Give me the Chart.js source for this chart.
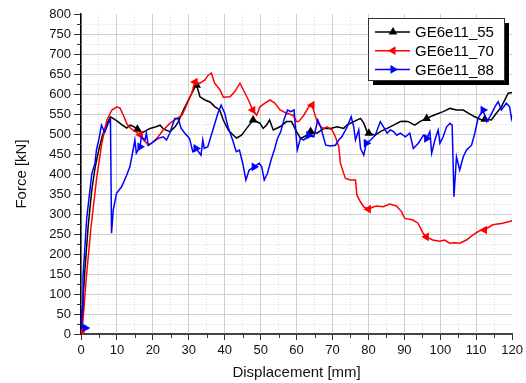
<!DOCTYPE html>
<html>
<head>
<meta charset="utf-8">
<script src="https://cdn.jsdelivr.net/npm/chart.js@4.4.1/dist/chart.umd.min.js"></script>
<style>
  html, body { margin: 0; padding: 0; background: #fff; }
  #wrap { width: 526px; height: 383px; }
</style>
</head>
<body>
<div id="wrap"><canvas id="forceChart" width="526" height="383"></canvas></div>
<script>
var seriesNames = ['GE6e11_55', 'GE6e11_70', 'GE6e11_88'];

var blackDisp = [0, 1, 2, 3, 4, 5, 6, 7, 8.2, 10, 11.5, 12.7, 13.7, 14.8, 15.7, 16.9, 18, 19.2, 20.9, 22, 23, 24.8, 26.2, 27.1, 28.5, 29.9, 31.75, 32.2, 33.1, 34.5, 35.9, 37.3, 38.6, 39.6, 41, 42.4, 43.3, 44.7, 46.1, 47.9, 49.8, 50.7, 51.6, 52.5, 53.5, 55.4, 57.2, 58.6, 60, 61.1, 62.9, 63.9, 65.7, 67.6, 69.4, 71.3, 73.1, 74, 75.9, 77.8, 78.7, 79.6, 80.1, 81.9, 83.3, 85.2, 87, 88.9, 90.3, 91.1, 92.9, 94.3, 96.2, 98.5, 100.8, 102.7, 104.5, 106.4, 107.8, 109.6, 111.5, 112.4, 114.2, 115.6, 117, 118.9, 120];
var blackForce = [0, 150, 270, 360, 420, 462, 497, 522, 543, 533, 522, 515, 522, 518, 512, 503, 508, 514, 518, 522, 512, 506, 518, 531, 560, 585, 618, 622, 593, 585, 580, 568, 560, 535, 510, 497, 490, 497, 514, 535, 527, 514, 522, 535, 510, 518, 531, 531, 506, 489, 497, 506, 502, 514, 514, 518, 514, 522, 531, 539, 527, 506, 502, 497, 506, 514, 522, 531, 532, 531, 522, 531, 539, 548, 556, 564, 560, 560, 552, 543, 535, 537, 535, 552, 568, 602, 604];

var redDisp = [0.3, 1.5, 2.8, 4.4, 5.8, 7.2, 8.6, 10, 10.9, 11.8, 12.8, 13.7, 15.1, 16.5, 17.4, 18.8, 19.7, 21.1, 22.9, 24.8, 26.7, 28.1, 29.4, 30.8, 31.75, 33.1, 34.5, 35.4, 36.3, 37.2, 38.7, 39.6, 41.5, 42.8, 44.25, 45.2, 46.6, 47.8, 48.9, 49.8, 51.2, 52.6, 54, 55.4, 57.2, 59, 60, 60.6, 62, 63.4, 64.3, 65, 65.7, 66.7, 67.6, 68.5, 69.9, 70.8, 71.75, 72.2, 73.1, 73.6, 75, 76.4, 76.8, 77.8, 78.7, 80, 81.5, 82.2, 84.1, 85.9, 87.8, 89.2, 90.1, 92.4, 93.8, 95.2, 96.1, 97.9, 99.8, 101.2, 102.6, 104, 105.4, 107.3, 109.1, 110.9, 112.3, 114.6, 117.4, 120];
var redForce = [5, 143, 268, 393, 477, 535, 560, 568, 564, 547, 525, 515, 506, 498, 485, 472, 477, 489, 510, 527, 539, 547, 572, 602, 630, 627, 635, 647, 652, 627, 610, 592, 593, 606, 627, 610, 585, 560, 547, 568, 577, 585, 577, 560, 552, 547, 531, 531, 547, 568, 572, 552, 531, 518, 514, 518, 510, 493, 468, 427, 402, 389, 385, 385, 347, 330, 318, 312, 318, 320, 318, 325, 320, 306, 289, 285, 277, 252, 243, 235, 232, 235, 227, 228, 227, 235, 248, 258, 260, 273, 277, 283];

var blueDisp = [1.2, 0.2, 0.3, 0.55, 1.6, 3, 3.9, 4.3, 5, 5.7, 6.6, 7.6, 8.2, 8.5, 8.97, 9.9, 11.3, 12.7, 13.6, 14.5, 15, 15.4, 16.4, 16.8, 17.8, 18.2, 18.7, 19.6, 21.5, 22.9, 23.8, 24.7, 26.1, 27, 27.9, 28.9, 30.2, 31.1, 32, 33.4, 33.9, 34.3, 35.3, 36.7, 38.1, 39, 40, 40.9, 42.2, 43.2, 44.1, 45, 45.9, 46.8, 48.2, 49.6, 50.3, 51, 51.9, 52.9, 53.8, 54.7, 55.6, 56.6, 57.5, 58.4, 59.3, 60.2, 61.1, 62, 63.4, 64.8, 65.9, 66.7, 68.1, 69.4, 70.8, 71.75, 72.6, 74.1, 75.2, 75.9, 76.4, 77.3, 77.8, 78.7, 79.4, 80.6, 81.9, 83.3, 84.2, 85.2, 86.1, 87, 87.9, 88.9, 90.3, 91.5, 92.5, 93.9, 95.3, 96.2, 97.1, 97.6, 98.5, 99.4, 99.9, 100.8, 101.75, 102.7, 103.3, 103.8, 104.5, 105.4, 106.4, 107.3, 108.7, 109.6, 110.5, 111.9, 112.9, 113.8, 115.2, 116.1, 117, 118.4, 119.3, 119.8, 120];
var blueForce = [15, 15, 60, 142, 290, 400, 427, 460, 487, 522, 504, 527, 535, 252, 310, 352, 368, 397, 418, 460, 485, 452, 468, 493, 485, 502, 472, 477, 489, 493, 485, 502, 539, 539, 514, 502, 489, 456, 464, 447, 485, 464, 468, 510, 552, 572, 552, 518, 485, 456, 460, 427, 385, 410, 418, 427, 418, 385, 402, 435, 460, 489, 506, 539, 560, 556, 560, 460, 489, 485, 497, 493, 535, 518, 472, 470, 472, 485, 493, 518, 543, 518, 485, 510, 464, 447, 477, 485, 497, 531, 518, 502, 510, 506, 497, 502, 493, 502, 464, 477, 497, 489, 506, 452, 485, 510, 477, 493, 518, 527, 522, 343, 443, 410, 443, 460, 472, 502, 539, 560, 531, 543, 568, 581, 560, 577, 568, 539, 547];

// symbols sit on the first point and every 16 mm after that
var markerDisp = [16, 32, 48, 64, 80, 96, 112];

var colors = ['#000000', '#ff0000', '#0000ff'];
var rotations = [0, -90, 90];

function toPoints(xs, ys) {
    var pts = [];
    for (var i = 0; i < xs.length; i++) pts.push({x: xs[i], y: ys[i]});
    return pts;
}

function markerIndexes(xs) {
    var idx = [0];
    markerDisp.forEach(function (m) {
        var best = 0;
        for (var i = 1; i < xs.length; i++) {
            if (Math.abs(xs[i] - m) < Math.abs(xs[best] - m)) best = i;
        }
        idx.push(best);
    });
    return idx;
}

var allDisp = [blackDisp, redDisp, blueDisp];
var allForce = [blackForce, redForce, blueForce];
var marks = allDisp.map(markerIndexes);

function triangle(ctx, x, y, r, rotation) {
    var rad = rotation * Math.PI / 180;
    ctx.beginPath();
    for (var k = 0; k < 3; k++) {
        var a = rad + k * 2 * Math.PI / 3;
        var px = x + Math.sin(a) * r, py = y - Math.cos(a) * r;
        if (k === 0) ctx.moveTo(px, py); else ctx.lineTo(px, py);
    }
    ctx.closePath();
    ctx.fill();
}

var boxLegend = {
    id: 'boxLegend',
    afterDraw: function (chart) {
        var ctx = chart.ctx;
        var x0 = 368, y0 = 18, w = 136, h = 62;
        ctx.save();
        ctx.fillStyle = '#000';
        ctx.fillRect(x0 + 5, y0 + 5, w, h);
        ctx.fillStyle = '#fff';
        ctx.fillRect(x0, y0, w, h);
        ctx.strokeStyle = '#333';
        ctx.lineWidth = 1;
        ctx.strokeRect(x0 + 0.5, y0 + 0.5, w, h);
        ctx.font = '15px "Liberation Sans", Arial, sans-serif';
        ctx.textBaseline = 'middle';
        seriesNames.forEach(function (name, i) {
            var y = 32 + i * 18.7;
            ctx.strokeStyle = colors[i];
            ctx.fillStyle = colors[i];
            ctx.lineWidth = 1.5;
            ctx.beginPath();
            ctx.moveTo(375, y);
            ctx.lineTo(410, y);
            ctx.stroke();
            triangle(ctx, 393, y, 5, rotations[i]);
            ctx.fillStyle = '#000';
            ctx.fillText(name, 415, y + 1);
        });
        ctx.restore();
    }
};

// short ticks for the in-between grid values
var minorTicks = {
    id: 'minorTicks',
    afterDraw: function (chart) {
        var ctx = chart.ctx, area = chart.chartArea;
        var xs = chart.scales.x, ys = chart.scales.y;
        ctx.save();
        ctx.lineWidth = 1;
        ctx.strokeStyle = '#333';
        ctx.beginPath();
        for (var v = 5; v < 120; v += 10) {
            var px = Math.round(xs.getPixelForValue(v)) + 0.5;
            ctx.moveTo(px, area.bottom);
            ctx.lineTo(px, area.bottom + 4);
        }
        for (var f = 25; f < 800; f += 50) {
            var py = Math.round(ys.getPixelForValue(f)) + 0.5;
            ctx.moveTo(area.left - 4, py);
            ctx.lineTo(area.left, py);
        }
        ctx.stroke();
        ctx.restore();
    }
};

var tickFont = {family: '"Liberation Sans", Arial, sans-serif', size: 13};
var titleFont = {family: '"Liberation Sans", Arial, sans-serif', size: 15};

function gridColor(major, edge) {
    return function (c) {
        if (!c.tick) return 'transparent';
        if (c.tick.value === edge) return 'transparent';
        return c.tick.value % major === 0 ? '#cfcfcf' : '#d9d9d9';
    };
}
function gridDash(major) {
    return function (c) {
        if (!c.tick) return [];
        return c.tick.value % major === 0 ? [] : [1, 2];
    };
}
function tickColor(major) {
    return function (c) {
        return c.tick && c.tick.value % major === 0 ? '#333' : 'transparent';
    };
}

var ctx = document.getElementById('forceChart').getContext('2d');
var forceChart = new Chart(ctx, {
    type: 'line',
    data: {
        datasets: seriesNames.map(function (name, i) {
            return {
                label: name,
                data: toPoints(allDisp[i], allForce[i]),
                borderColor: colors[i],
                backgroundColor: colors[i],
                borderWidth: 1.5,
                tension: 0,
                fill: false,
                order: 3 - i,
                pointStyle: 'triangle',
                rotation: rotations[i],
                pointBorderWidth: 0,
                pointRadius: function (c) {
                    return marks[c.datasetIndex].indexOf(c.dataIndex) >= 0 ? 5 : 0;
                },
                pointHoverRadius: 0
            };
        })
    },
    options: {
        responsive: false,
        animation: false,
        events: [],
        layout: {padding: {top: 14, right: 13, left: 0, bottom: 0}},
        plugins: {legend: {display: false}, tooltip: {enabled: false}},
        scales: {
            x: {
                type: 'linear',
                min: 0,
                max: 120,
                afterFit: function (s) { s.height = 49; },
                ticks: {
                    stepSize: 5,
                    autoSkip: false,
                    maxRotation: 0,
                    padding: 3,
                    color: '#111',
                    font: tickFont,
                    callback: function (v) { return v % 10 === 0 ? v : ''; }
                },
                grid: {
                    color: gridColor(10, 120),
                    lineWidth: 1,
                    tickLength: 6,
                    tickColor: tickColor(10)
                },
                border: {color: '#444', width: 2, dash: gridDash(10)},
                title: {
                    display: true,
                    text: 'Displacement [mm]',
                    color: '#111',
                    font: titleFont,
                    padding: {top: 0, bottom: 1}
                }
            },
            y: {
                min: 0,
                max: 800,
                afterFit: function (s) { s.width = 81; },
                ticks: {
                    stepSize: 25,
                    autoSkip: false,
                    padding: 3,
                    color: '#111',
                    font: tickFont,
                    callback: function (v) { return v % 50 === 0 ? v : ''; }
                },
                grid: {
                    color: gridColor(50, 800),
                    lineWidth: 1,
                    tickLength: 7,
                    tickColor: tickColor(50)
                },
                border: {color: '#000', width: 1.5, dash: gridDash(50)},
                title: {
                    display: true,
                    text: 'Force [kN]',
                    color: '#111',
                    font: titleFont,
                    padding: {top: 13, bottom: 0}
                }
            }
        }
    },
    plugins: [minorTicks, boxLegend]
});
</script>
</body>
</html>
